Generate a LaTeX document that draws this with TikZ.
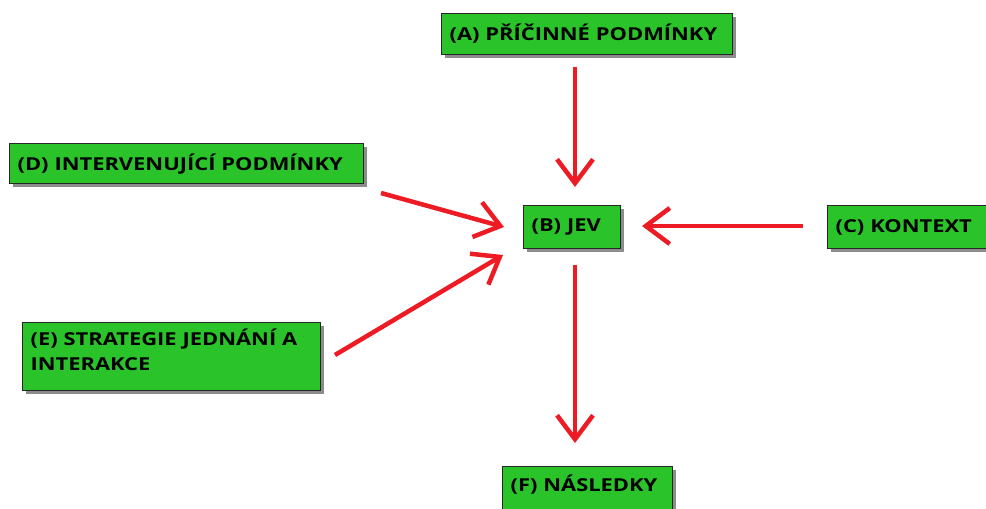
\documentclass[tikz,border=0pt]{standalone}
\usepackage{fontspec}
\setmainfont{Open Sans}[FakeStretch=1.23]
\usetikzlibrary{arrows.meta,shadows}
\definecolor{boxgreen}{RGB}{42,196,42}
\definecolor{arrred}{RGB}{237,28,36}
\tikzset{
  box/.style={draw=black!85, line width=1.2pt, fill=boxgreen, anchor=north west,
    align=left, inner xsep=8pt, inner ysep=0pt, font=\fontsize{17.8}{25}\selectfont\bfseries,
    drop shadow={shadow xshift=3.5pt, shadow yshift=-3.5pt, fill=black, opacity=0.45}},
  arr/.style={draw=arrred, line width=4.5pt, -{Straight Barb[length=24pt,width=36pt]}}
}
\begin{document}
\begin{tikzpicture}[x=1pt,y=-1pt]
\useasboundingbox (0,0) rectangle (986,509);
\clip (0,0) rectangle (986,509);
\fill[white] (0,0) rectangle (986,509);
\node[box, minimum width=291pt, minimum height=41pt, text width=275pt] (A) at (441,13) {(A) PŘÍČINNÉ PODMÍNKY};
\node[box, minimum width=354pt, minimum height=40pt, text width=338pt] (D) at (9,143) {(D) INTERVENUJÍCÍ PODMÍNKY};
\node[box, minimum width=97pt, minimum height=43pt, text width=81pt] (B) at (523,205) {(B) JEV};
\node[box, minimum width=185pt, minimum height=43pt, text width=169pt] (C) at (827,205) {(C) KONTEXT};
\node[box, minimum width=298pt, minimum height=68pt, text width=282pt, text depth=38pt] (E) at (22,322) {(E) STRATEGIE JEDNÁNÍ A\\INTERAKCE};
\node[box, minimum width=170pt, minimum height=44pt, text width=154pt, text depth=11pt] (F) at (502,466) {(F) NÁSLEDKY};
\coordinate (a1) at (575,67);
\coordinate (a2) at (575,187);
\coordinate (d1) at (381,193);
\coordinate (d2) at (504,227);
\coordinate (e1) at (335,355);
\coordinate (e2) at (503,255);
\coordinate (c1) at (803,226);
\coordinate (c2) at (642,226);
\coordinate (f1) at (575,265);
\coordinate (f2) at (575,443);
\draw[arr] (a1) -- (a2);
\draw[arr] (d1) -- (d2);
\draw[arr] (e1) -- (e2);
\draw[arr] (c1) -- (c2);
\draw[arr] (f1) -- (f2);
\end{tikzpicture}
\end{document}
